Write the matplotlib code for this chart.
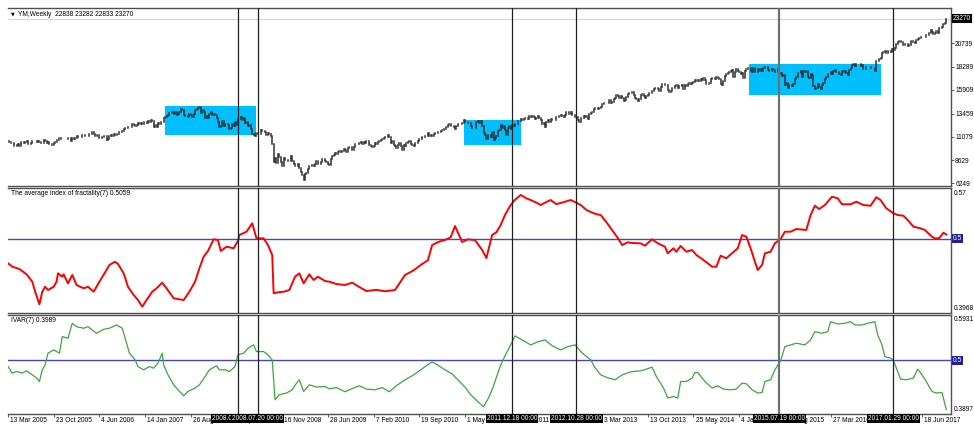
import numpy as np
import pandas as pd
import matplotlib
matplotlib.use('Agg')
import matplotlib.pyplot as plt
from matplotlib.patches import Rectangle
import matplotlib.transforms as mtransforms

plt.rcParams['font.family'] = ['Liberation Sans', 'DejaVu Sans']
FS = 4.8

# weekly closes of YM, first bar is the week of 13 Mar 2005
START = '2005-03-13'
close_2005 = [10630, 10565, 10405, 10460, 10090, 10155, 10190, 10345, 10140, 10470, 10540, 10460, 10510, 10625,
              10300, 10275, 10450, 10640, 10650, 10640, 10560, 10600, 10560, 10400, 10450, 10680, 10640, 10420,
              10570, 10290, 10290, 10215, 10400, 10530, 10690, 10770, 10930, 10880, 10780, 10880, 10880, 10780]
close_2006 = [10960, 10960, 10670, 10910, 10790, 10920, 11115, 11060, 11020, 11075, 11280, 11280, 11110, 11120,
              11140, 11350, 11380, 11580, 11380, 11145, 11280, 11250, 10890, 10940, 10990, 11150, 11090, 10740,
              10870, 11100, 11240, 11090, 11380, 11280, 11380, 11390, 11560, 11510, 11680, 11850, 11960, 12000,
              12090, 12030, 12110, 12340, 12280, 12190, 12310, 12440, 12340, 12460, 12400]
close_2007 = [12550, 12570, 12480, 12650, 12580, 12770, 12650, 12110, 12280, 12110, 12480, 12350, 12560, 12610,
              12960, 13120, 13260, 13330, 13560, 13510, 13670, 13420, 13640, 13360, 13410, 13610, 13900, 13850,
              13270, 13180, 13240, 13080, 13380, 13360, 13110, 13440, 13820, 13900, 14070, 14090, 13520, 13810,
              13600, 13040, 13180, 12980, 13370, 13620, 13340, 13450, 13365, 13000]
close_2008 = [12610, 12100, 12210, 12740, 12180, 12350, 12380, 12270, 11890, 11950, 12360, 12220, 12610, 12330,
              12850, 12890, 13060, 12750, 12990, 12480, 12640, 12210, 12310, 11840, 11350, 11290, 11100, 11500,
              11370, 11330, 11730, 11660, 11630, 11540, 11220, 11420, 11390, 11140, 10330, 8450, 8850, 8380,
              9330, 8940, 8500, 8050, 8830, 8640, 8630, 8580, 8520, 9030]
close_2009 = [8600, 8280, 8080, 8000, 8280, 7850, 7370, 7060, 6630, 7220, 7280, 7780, 8020, 8080, 8130, 8080,
              8210, 8570, 8270, 8280, 8500, 8760, 8800, 8540, 8440, 8280, 8150, 8740, 9090, 9170, 9370, 9320,
              9500, 9540, 9440, 9600, 9820, 9670, 9490, 9860, 9990, 9970, 9710, 10020, 10270, 10320, 10310,
              10390, 10470, 10330, 10520, 10430]
close_2010 = [10620, 10610, 10170, 10070, 10010, 10100, 10400, 10330, 10570, 10620, 10740, 10850, 10930, 11000,
              11020, 11200, 11010, 10380, 10620, 10190, 10140, 9930, 10210, 10450, 10140, 9690, 10200, 10100,
              10420, 10470, 10650, 10300, 10210, 10150, 10450, 10460, 10610, 10860, 10830, 11000, 11060, 11130,
              11120, 11440, 11190, 11200, 11090, 11380, 11410, 11490, 11570, 11580]
close_2011 = [11670, 11790, 11870, 11820, 12090, 12270, 12390, 12130, 12170, 12040, 11860, 12220, 12380, 12380,
              12340, 12500, 12810, 12640, 12600, 12510, 12440, 12150, 11950, 12000, 11930, 12580, 12660, 12480,
              12680, 12140, 11440, 11270, 10820, 11280, 11240, 10990, 11510, 10770, 10910, 11100, 11640, 11810,
              12230, 11980, 12150, 11800, 11230, 12020, 12180, 11870, 12290, 12220]
close_2012 = [12360, 12420, 12720, 12660, 12860, 12800, 12950, 12980, 12980, 12920, 13230, 13080, 13210, 13060,
              12850, 13030, 13230, 13040, 12820, 12370, 12450, 12120, 12550, 12770, 12640, 12880, 12770, 12780,
              12820, 13080, 13100, 13210, 13280, 13160, 13090, 13310, 13590, 13580, 13440, 13610, 13330, 13340,
              13110, 13090, 12820, 12590, 13010, 13030, 13160, 13140, 13190, 12940, 13440]
close_2013 = [13490, 13650, 13900, 14010, 13990, 13980, 14000, 14090, 14400, 14510, 14510, 14580, 14570, 14870,
              14550, 14710, 14970, 15120, 15350, 15300, 15120, 15250, 15070, 14800, 14910, 15140, 15460, 15540,
              15560, 15660, 15430, 15080, 15010, 14810, 14920, 15380, 15450, 15260, 15070, 15240, 15400, 15570,
              15620, 15760, 15960, 16060, 16090, 16020, 15760, 16220, 16480, 16470]
close_2014 = [16440, 16460, 15880, 15700, 15790, 16150, 16100, 16320, 16450, 16070, 16300, 16320, 16410, 16030,
              16410, 16360, 16510, 16580, 16490, 16610, 16720, 16920, 16780, 16950, 16850, 17070, 16940, 17100,
              16960, 16490, 16550, 16660, 17000, 17100, 17140, 16990, 17280, 17110, 17010, 16540, 16380, 16800,
              17390, 17570, 17630, 17810, 17830, 17950, 17280, 17800, 18050, 17830]
close_2015 = [17740, 17510, 17670, 17160, 17820, 18020, 18140, 18130, 17860, 17750, 18130, 17710, 17760, 18060,
              17830, 18080, 17840, 18190, 18270, 18230, 18010, 17850, 17900, 18020, 17950, 17730, 17760, 18090,
              17570, 17690, 17370, 17480, 16460, 16640, 16100, 16430, 16380, 16310, 16470, 17080, 17210, 17650,
              17660, 17910, 17250, 17820, 17800, 17850, 17260, 17130, 17550, 17430]
close_2016 = [16350, 15990, 16090, 16470, 16200, 15970, 16390, 16640, 17010, 17210, 17600, 17520, 17790, 17580,
              17900, 18000, 17770, 17740, 17540, 17500, 17870, 17810, 17870, 17680, 17400, 17950, 18150, 18520,
              18570, 18430, 18540, 18580, 18550, 18400, 18490, 18090, 18120, 18260, 18310, 18240, 18140, 18150,
              18160, 17890, 18850, 18870, 19150, 19170, 19760, 19840, 19930, 19760]
close_2017 = [19960, 19890, 19830, 20090, 20070, 20270, 20620, 20820, 21000, 20900, 20910, 20600, 20660, 20660,
              20450, 20550, 20940, 21010, 20900, 20800, 21080, 21210, 21270, 21380, 21390, 21350, 21410, 21640,
              21580, 21830, 22090, 21860, 21670, 21810, 21990, 21800, 22270, 22350, 22400, 22770, 22870, 23270]

# indicator readings: (week number, value)
fractality = [(0, .4658), (3, .4611), (8, .4579), (13, .4505), (17, .4403), (19, .4264), (21, .4148), (22, .4089),
              (24, .4264), (26, .4333), (28, .4287), (32, .4333), (34, .4403), (35, .4519), (38, .4472), (39, .4505),
              (42, .438), (45, .4496), (48, .4357), (53, .4311), (56, .4333), (60, .4264), (64, .4403), (68, .4533),
              (71, .4635), (75, .468), (77, .4649), (81, .4519), (84, .4333), (88, .4218), (91, .4148), (94, .4055),
              (97, .4148), (101, .4264), (104, .4311), (108, .4389), (111, .4311), (116, .4172), (123, .4148),
              (127, .4264), (131, .4403), (134, .4589), (137, .475), (140, .4829), (144, .4992), (147, .4982),
              (149, .4829), (153, .4889), (158, .4867), (161, .4968), (162, .5051), (167, .5097), (171, .5214),
              (174, .5005), (179, .5005), (182, .4912), (185, .4774), (186, .4242), (189, .4255), (193, .4264),
              (197, .4287), (201, .4472), (204, .4519), (207, .438), (211, .4505), (214, .4426), (217, .4472),
              (222, .4412), (225, .4403), (230, .4370), (236, .4357), (241, .4390), (246, .4329), (251, .4273),
              (258, .4290), (264, .4270), (271, .4287), (278, .4496), (284, .4560), (289, .4635), (294, .4700),
              (297, .4912), (302, .4960), (306, .4982), (310, .5020), (313, .5176), (318, .4954), (322, .4990),
              (327, .4982), (332, .4843), (335, .4732), (339, .5051), (342, .5090), (345, .519), (348, .5330),
              (352, .5468), (355, .5540), (359, .5607), (363, .5560), (366, .5537), (370, .5500), (373, .5468),
              (377, .5510), (380, .5537), (384, .5480), (387, .5496), (391, .5520), (394, .5537), (398, .5500),
              (401, .5468), (405, .5400), (408, .5371), (412, .5340), (415, .5329), (419, .5230), (423, .5121),
              (427, .5010), (430, .4912), (434, .4950), (437, .494), (443, .4936), (446, .4903), (451, .4992),
              (455, .4936), (460, .4889),
              (462, .4797), (466, .4867), (468, .4819), (471, .4899), (475, .4819), (479, .4843), (482, .4774),
              (487, .4704), (493, .4611), (496, .4611), (499, .4764), (503, .4728), (507, .4797), (511, .4867),
              (514, .5051), (517, .5028), (520, .4867), (523, .468), (525, .4565), (528, .4635), (530, .4797),
              (534, .4819), (537, .4936), (541, .4996), (544, .5097), (548, .5097), (552, .5135), (559, .5121),
              (562, .5329), (565, .5458), (568, .5412), (572, .5468), (577, .5583), (581, .5561), (584, .5478),
              (590, .5478), (594, .5514), (599, .5468), (604, .5458), (608, .5575), (611, .5537), (615, .5422),
              (620, .5353), (623, .5329), (627, .5319), (630, .526), (634, .5167), (639, .5144), (642, .5121),
              (647, .5028), (649, .5005), (652, .5005), (655, .5083), (657, .5059)]
ivar = [(0, .4872), (3, .4737), (6, .477), (10, .4737), (13, .4784), (17, .4702), (20, .4635), (22, .4565),
        (24, .4805), (26, .4907), (28, .5147), (32, .5214), (36, .5147), (38, .5487), (42, .5454), (45, .5761),
        (48, .5691), (53, .5659), (56, .5691), (62, .5556), (67, .5638), (71, .5659), (76, .5726), (80, .5659),
        (83, .5351), (85, .5147), (89, .5009), (91, .4872), (95, .4805), (99, .4872), (102, .4839), (105, .4942),
        (108, .5147), (109, .4907), (112, .4702), (116, .4497), (119, .4395), (123, .4272), (126, .436),
        (131, .443), (134, .4497), (138, .4667), (141, .4805), (146, .4887), (148, .4805), (152, .4805),
        (155, .477), (159, .4872), (161, .5112), (165, .5147), (168, .5249), (172, .5317), (174, .5179),
        (179, .5179), (182, .5112), (185, .5009), (187, .419), (190, .4293), (195, .4327), (199, .4395),
        (202, .4532), (204, .46), (207, .436), (211, .4497), (216, .445), (222, .4463), (225, .4415),
        (230, .4440), (236, .4354), (241, .4420), (246, .4477), (251, .4410), (257, .4395), (262, .4440),
        (267, .4354), (272, .4480), (278, .46), (284, .4700), (289, .4805), (293, .4890), (297, .4968),
        (301, .4900), (306, .4805), (311, .4720), (315, .46), (320, .4450), (324, .4293), (329, .4150),
        (333, .4047), (336, .4200), (339, .4395), (342, .4650), (345, .4907), (349, .5150), (352, .5317),
        (355, .5501), (360, .5420), (366, .5317), (371, .5380), (376, .5419), (381, .5300), (387, .5214),
        (392, .5280), (397, .5317), (402, .5150), (408, .5009), (411, .4850), (415, .4702), (420, .4640),
        (425, .46), (430, .4700), (436, .4764),
        (443, .4784), (447, .4819), (451, .486), (454, .4667), (459, .443),
        (462, .4225), (466, .4258), (469, .4225), (471, .4565), (475, .4565), (479, .4635), (481, .4749),
        (483, .4749), (488, .4565), (493, .443), (497, .4477), (501, .4409), (506, .4395), (510, .4409),
        (514, .4532), (517, .4518), (521, .4395), (525, .4327), (528, .434), (530, .4565), (534, .46),
        (537, .4805), (541, .4989), (544, .5282), (548, .5317), (552, .5351), (558, .5317), (562, .5419),
        (565, .5589), (570, .5556), (574, .5589), (576, .5794), (581, .5747), (586, .5761), (590, .5794),
        (593, .5726), (598, .5726), (602, .5761), (607, .5794), (609, .5521), (612, .5317), (614, .5077),
        (618, .5044), (620, .4995), (623, .477), (625, .4614), (629, .46), (634, .4635), (637, .4819),
        (640, .4702), (643, .4565), (647, .436), (650, .4327), (654, .434), (657, .3989)]

vline_dates = ['2008-04-13', '2008-07-20', '2011-12-18', '2012-10-28', '2015-07-19', '2017-01-29']
# boxes: start week, end week, low, high
boxes = [('2007-04-22', '2008-07-13', 11275, 14268),
         ('2011-04-24', '2012-01-29', 10243, 12823),
         ('2015-02-22', '2016-11-27', 15331, 18602)]
price_ticks = [6249, 8629, 11079, 13459, 15909, 18289, 20739]
last_price = 23270
ohlc_title = 'YM,Weekly  22838 23282 22833 23270'

close = np.array(close_2005 + close_2006 + close_2007 + close_2008 + close_2009 + close_2010 + close_2011 +
                 close_2012 + close_2013 + close_2014 + close_2015 + close_2016 + close_2017, dtype=float)
dates = pd.date_range(START, periods=len(close), freq='W-SUN')
x = np.arange(len(close))


def week_of(d):
    return (pd.Timestamp(d) - dates[0]).days / 7.0


W, H = 974, 424
fig = plt.figure(figsize=(W / 100, H / 100), dpi=100)


def px_axes(top, bottom, left=8, right=951):
    return fig.add_axes([left / W, 1 - bottom / H, (right - left) / W, (bottom - top) / H])


ax1 = px_axes(8.3, 186.3)
ax2 = px_axes(188.3, 313)
ax3 = px_axes(315, 414)
xmax = 943 / 1.4281

for ax in (ax1, ax2, ax3):
    ax.set_xlim(0, xmax)
    for s in ('top', 'bottom', 'right'):
        ax.spines[s].set_color('#505050')
        ax.spines[s].set_linewidth(1)
    ax.spines['left'].set_visible(False)
    ax.yaxis.tick_right()
    ax.tick_params(axis='y', length=2, width=0.6, color='#404040', labelsize=FS, pad=1)
    for d in vline_dates:
        if d.startswith('2015'):
            ax.axvline(week_of(d), color='#707070', lw=1.6, zorder=4)
        else:
            ax.axvline(week_of(d), color='#202020', lw=0.9, zorder=4)

# main price panel
ax1.set_ylim(5939, 24350)
ax1.axhline(last_price, color='#d9d9d9', lw=1, zorder=0)
for a, b, lo, hi in boxes:
    xa, xb = week_of(a), week_of(b)
    ax1.add_patch(Rectangle((xa, lo), xb - xa, hi - lo, facecolor='#00bfff', edgecolor='none', zorder=1))
prev = np.r_[close[0], close[:-1]]
bars = ax1.vlines(x, np.minimum(prev, close), np.maximum(prev, close), color='#2e2e2e', lw=1.1, zorder=3)
bars.set_capstyle('projecting')
ax1.set_xticks([])
ax1.set_yticks(price_ticks)
ax1.set_yticklabels([str(t) for t in price_ticks])
ax1.text(1.002, last_price, str(last_price),
         transform=mtransforms.blended_transform_factory(ax1.transAxes, ax1.transData),
         fontsize=FS, color='white', va='center', ha='left',
         bbox=dict(facecolor='black', edgecolor='none', pad=0.6))
fig.text(11 / W, 1 - 14 / H, '\u25bc', fontsize=3.5, va='center', family='DejaVu Sans')
fig.text(18 / W, 1 - 14 / H, ohlc_title, fontsize=FS, va='center')

# indicator panels
fw, fv = zip(*fractality)
iw, iv = zip(*ivar)
panels = [(ax2, fw, fv, (0.3968, 0.57), '#ff0000', 1.4, 'The average index of fractality(7) 0.5059', 194),
          (ax3, iw, iv, (0.3897, 0.5931), '#3aa83a', 0.9, 'IVAR(7) 0.3989', 321)]
for ax, wk, val, lim, col, lw, title, ty in panels:
    ax.set_ylim(*lim)
    ax.plot(wk, val, color=col, lw=lw, zorder=3)
    ax.axhline(0.5, color='#4444c4', lw=1, zorder=2)
    ax.set_yticks([])
    ax.text(1.003, 0.99, '%g' % lim[1], transform=ax.transAxes, fontsize=FS, va='top', ha='left')
    ax.text(1.003, 0.01, '%g' % lim[0], transform=ax.transAxes, fontsize=FS, va='bottom', ha='left')
    ax.text(1.002, 0.5, '0.5', transform=mtransforms.blended_transform_factory(ax.transAxes, ax.transData),
            fontsize=FS, color='white', va='center', ha='left',
            bbox=dict(facecolor='#20209a', edgecolor='none', pad=0.6))
    fig.text(11 / W, 1 - ty / H, title, fontsize=FS, va='center')

ax2.set_xticks([])

# date axis
tick_weeks = list(range(0, 641, 32))
tick_labels = ['%d %s' % (dates[i].day, dates[i].strftime('%b %Y')) for i in tick_weeks]
ax3.set_xticks(tick_weeks)
ax3.set_xticklabels(tick_labels, ha='left', fontsize=FS)
ax3.tick_params(axis='x', direction='out', length=2, width=0.6, color='#404040', pad=0.5)
shift = mtransforms.ScaledTranslation(1.5 / 72, 0, fig.dpi_scale_trans)
for lab in ax3.get_xticklabels():
    lab.set_transform(lab.get_transform() + shift)

for d in vline_dates:
    px = 8 + week_of(d) * 1.4281
    fig.text(px / W, 1 - 418.8 / H, pd.Timestamp(d).strftime('%Y.%m.%d 00:00'), fontsize=FS, color='white',
             ha='center', va='center', bbox=dict(facecolor='black', edgecolor='none', pad=0.7))

fig.savefig('out.png', dpi=100)
